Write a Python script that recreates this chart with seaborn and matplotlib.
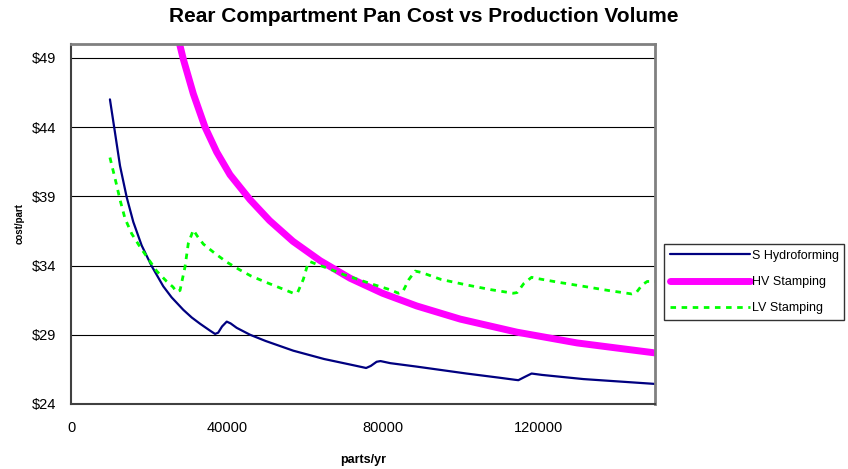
import matplotlib
matplotlib.use("Agg")
import matplotlib.pyplot as plt
import seaborn as sns
import pandas as pd
from matplotlib.ticker import FuncFormatter

# ---- data ----
hydro_x = [10000, 11300, 12590, 14300, 16000, 18150, 20700, 23700, 25850, 28850,
           31000, 33130, 35700, 37000, 37800, 38800, 40000, 41000, 42560, 46000,
           50000, 57100, 65000, 71700, 75000, 75800, 77000, 78500, 79500, 82000,
           88800, 101600, 110000, 114000, 114900, 116500, 118300, 121000, 131600, 150000]
hydro_y = [46.0, 43.6, 41.2, 38.94, 37.15, 35.45, 33.97, 32.5, 31.7, 30.8,
           30.25, 29.8, 29.3, 29.06, 29.15, 29.6, 29.95, 29.82, 29.5, 29.0,
           28.55, 27.85, 27.25, 26.85, 26.65, 26.6, 26.75, 27.05, 27.1, 26.95,
           26.7, 26.2, 25.9, 25.75, 25.72, 25.95, 26.2, 26.1, 25.8, 25.45]

hv_x = [26500, 28850, 31420, 34420, 37420, 40840, 45980, 51000, 57000, 64000,
        71700, 80000, 88800, 100000, 114500, 130000, 150000]
hv_y = [51.6, 48.9, 46.4, 44.0, 42.2, 40.56, 38.76, 37.25, 35.75, 34.35,
        33.08, 32.0, 31.08, 30.13, 29.19, 28.41, 27.69]

lv_x = [10000, 10870, 11730, 12590, 13870, 15590, 17720, 19440, 22010, 24580,
        26200, 27100, 28000, 29280, 30130, 31420, 32500, 34000, 37000, 40000,
        43400, 46200, 50000, 54000, 57100, 58200, 59670, 60700, 61400, 63000,
        66000, 70000, 74200, 78000, 82000, 84100, 85200, 86800, 88400, 90000,
        95000, 101600, 108000, 113600, 114600, 116300, 118300, 120000, 125000, 131600,
        138000, 144000, 145200, 146700, 148000, 150000]
lv_y = [41.8, 40.8, 39.8, 38.75, 37.4, 36.3, 35.35, 34.65, 33.6, 32.85,
        32.45, 32.1, 32.2, 33.9, 35.6, 36.57, 36.1, 35.55, 34.87, 34.25,
        33.68, 33.25, 32.8, 32.35, 32.0, 32.05, 33.0, 34.0, 34.28, 34.1,
        33.8, 33.35, 32.95, 32.6, 32.25, 32.0, 32.1, 33.0, 33.6, 33.5,
        33.0, 32.6, 32.25, 32.0, 32.05, 32.7, 33.15, 33.05, 32.8, 32.5,
        32.2, 31.95, 32.05, 32.6, 32.85, 32.85]

series_names = ["S Hydroforming", "HV Stamping", "LV Stamping"]
y_ticks = [24, 29, 34, 39, 44, 49]
x_ticks = [0, 40000, 80000, 120000]

title = "Rear Compartment Pan Cost vs Production Volume"
x_label = "parts/yr"
y_label = "cost/part"

# ---- plot ----
sns.set_style("white")
plt.rcParams["font.family"] = ["Liberation Sans", "DejaVu Sans"]
plt.rcParams["text.color"] = "black"
plt.rcParams["axes.labelcolor"] = "black"
plt.rcParams["xtick.color"] = "black"
plt.rcParams["ytick.color"] = "black"

fig = plt.figure(figsize=(8.48, 4.69), dpi=100)
ax = fig.add_axes([71/848, 1 - 404/469, (655 - 71)/848, (404 - 44)/469])

df_h = pd.DataFrame({"x": hydro_x, "y": hydro_y})
df_hv = pd.DataFrame({"x": hv_x, "y": hv_y})
df_lv = pd.DataFrame({"x": lv_x, "y": lv_y})

sns.lineplot(data=df_h, x="x", y="y", ax=ax, color="#000080", linewidth=1.6,
             label=series_names[0], sort=False, estimator=None)
sns.lineplot(data=df_hv, x="x", y="y", ax=ax, color="#FF00FF", linewidth=5.0,
             label=series_names[1], sort=False, estimator=None,
             solid_capstyle="round")
sns.lineplot(data=df_lv, x="x", y="y", ax=ax, color="#00FF00", linewidth=2.0,
             linestyle=(0, (2, 2)), label=series_names[2], sort=False, estimator=None)

ax.set_xlim(0, 150000)
ax.set_ylim(24, 50)
ax.set_xticks(x_ticks)
ax.set_yticks(y_ticks)
ax.yaxis.set_major_formatter(FuncFormatter(lambda v, p: f"${int(v)}"))
ax.xaxis.set_major_formatter(FuncFormatter(lambda v, p: f"{int(v)}"))
ax.tick_params(axis="both", labelsize=10.5, direction="out", length=5,
               width=1, color="black", labelcolor="black", pad=6)
ax.tick_params(axis="x", pad=7)

ax.yaxis.grid(True, color="black", linewidth=0.8)
ax.xaxis.grid(False)
ax.set_axisbelow(True)

for s in ["top", "right"]:
    ax.spines[s].set_color("#808080")
    ax.spines[s].set_linewidth(2)
for s in ["left", "bottom"]:
    ax.spines[s].set_color("#404040")
    ax.spines[s].set_linewidth(1.5)

ax.set_xlabel(x_label, fontsize=9, fontweight="bold", labelpad=14, color="black")
ax.set_ylabel(y_label, fontsize=7, fontweight="bold", labelpad=4.5, color="black")

fig.text(0.5, 1 - 16.5/469, title, ha="center", va="center",
         fontsize=15, fontweight="bold", color="black")

leg = ax.legend(loc="upper left", bbox_to_anchor=(664/848, 1 - 244/469),
                bbox_transform=fig.transFigure, borderaxespad=0,
                fancybox=False, frameon=True, edgecolor="black",
                fontsize=9, handlelength=6.4, handletextpad=0.15,
                labelspacing=1.15, borderpad=0.45)
leg.get_frame().set_linewidth(1.0)
for t in leg.get_texts():
    t.set_color("black")

fig.savefig("out.png", dpi=100)
